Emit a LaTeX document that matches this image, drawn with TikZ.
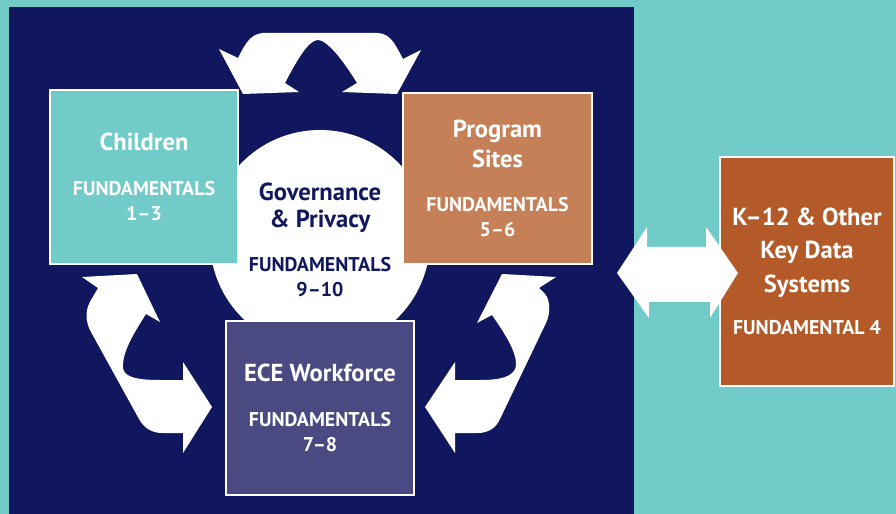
\documentclass[tikz,border=0pt]{standalone}
\usepackage{fontspec}
\setmainfont{PT Sans}
\usepackage{tikz}
\definecolor{bgteal}{RGB}{112,203,201}
\definecolor{navy}{RGB}{17,23,94}
\definecolor{childteal}{RGB}{112,203,201}
\definecolor{sitebrown}{RGB}{197,128,88}
\definecolor{workpurple}{RGB}{74,73,130}
\definecolor{k12rust}{RGB}{180,90,40}
\newcommand{\ttl}{\fontsize{21}{24}\selectfont}
\newcommand{\fnd}{\fontsize{17}{21.3}\selectfont}

\begin{document}
\begin{tikzpicture}[x=0.03cm,y=-0.03cm]
	\tikzstyle{area}=[rectangle,draw=white,line width=2.5pt,text=white,font=\bfseries\fnd,align=center,inner sep=0pt]
	\tikzstyle{hub}=[circle,fill=white,inner sep=0pt,minimum size=6.6cm,text=navy,font=\bfseries\fnd,align=center]
	
	\useasboundingbox[fill=bgteal] (0,0) rectangle (896,514);
	\fill[navy] (9,7) rectangle (634,514);
	
	\node[hub] at (320,240) (gov) {\ttl Governance\\[2pt]\ttl \& Privacy\\[16pt]FUNDAMENTALS\\9--10};
	
	\node[area,fill=childteal,minimum width=5.64cm,minimum height=5.22cm] at (144,177) (children) {\ttl Children\\[17pt]FUNDAMENTALS\\1--3};
	\node[area,fill=sitebrown,minimum width=5.67cm,minimum height=5.13cm] at (497.5,178.5) (sites) {\ttl Program\\[4pt]\ttl Sites\\[16pt]FUNDAMENTALS\\5--6};
	\node[area,fill=workpurple,minimum width=5.64cm,minimum height=5.22cm] at (320,408) (workforce) {\ttl ECE Workforce\\[17pt]FUNDAMENTALS\\7--8};
	\node[area,fill=k12rust,minimum width=5.22cm,minimum height=6.87cm] at (807,271.5) (k12) {\ttl K--12 \& Other\\[7pt]\ttl Key Data\\[7pt]\ttl Systems\\[15pt]FUNDAMENTAL 4};
	
	\fill[white] (219,49) -- (243,94) -- (299,92) -- (285,83) .. controls (298,58) and (309,40) .. (318,40) .. controls (327,40) and (343,60) .. (357,83) -- (342,92) -- (397,94) -- (421,50) -- (403,59) .. controls (394,42) and (390,34) .. (378,33) -- (263,33) .. controls (251,34) and (246,42) .. (238,58) -- cycle;
	
	\fill[white] (82,277) -- (137,274) -- (160,322) -- (146,314) .. controls (134,333) and (122,352) .. (123,368) .. controls (124,378) and (140,380) .. (160,380) -- (183,380) -- (183,362) -- (212,407) -- (183,453) -- (183,433) -- (162,433) .. controls (152,433) and (144,428) .. (139,419) -- (91,332) .. controls (85,321) and (85,310) .. (91,300) -- (98,288) -- cycle;
	
	\fill[white] (556,277) -- (502,274) -- (477,323) -- (492,315) .. controls (505,334) and (517,352) .. (516,366) .. controls (514,377) and (500,380) .. (480,380) -- (455,380) -- (455,362) -- (425,407) -- (455,453) -- (455,433) -- (478,433) .. controls (488,433) and (496,428) .. (500,419) -- (546,323) .. controls (551,312) and (550,300) .. (545,294) -- (539,288) -- cycle;
	
	\fill[white] (617,273) -- (647,227) -- (647,247) -- (706,247) -- (706,227) -- (738,273) -- (710,318) -- (710,302) -- (649,302) -- (649,318) -- cycle;
\end{tikzpicture}
\end{document}
